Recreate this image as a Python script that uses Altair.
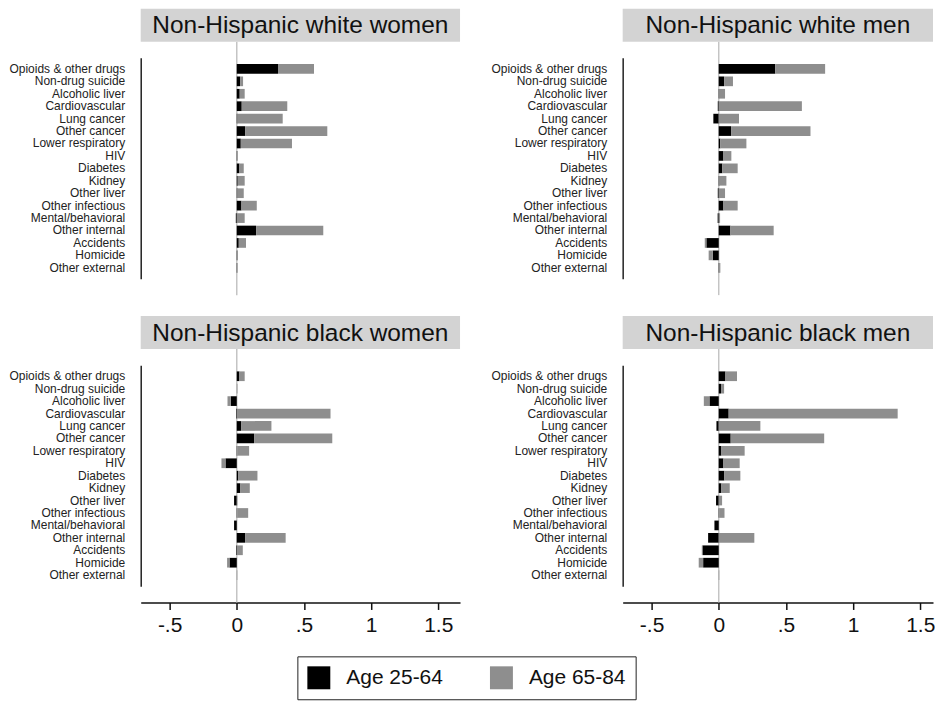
import altair as alt
import pandas as pd

causes = ["Opioids & other drugs", "Non-drug suicide", "Alcoholic liver", "Cardiovascular",
          "Lung cancer", "Other cancer", "Lower respiratory", "HIV", "Diabetes", "Kidney",
          "Other liver", "Other infectious", "Mental/behavioral", "Other internal",
          "Accidents", "Homicide", "Other external"]
panels = ["Non-Hispanic white women", "Non-Hispanic white men",
          "Non-Hispanic black women", "Non-Hispanic black men"]
ages = ["Age 25-64", "Age 65-84"]

ww_young = [0.307, 0.025, 0.022, 0.037, 0.005, 0.062, 0.030, 0.004, 0.020, 0.007, 0.005, 0.035, -0.007, 0.144, 0.015, 0.004, 0.003]
ww_old   = [0.268, 0.022, 0.037, 0.339, 0.337, 0.612, 0.381, 0.000, 0.032, 0.052, 0.047, 0.114, 0.059, 0.500, 0.054, 0.004, 0.003]
wm_young = [0.421, 0.040, 0.005, -0.007, -0.040, 0.092, 0.012, 0.035, 0.027, 0.005, -0.007, 0.035, -0.008, 0.087, -0.092, -0.045, 0.004]
wm_old   = [0.371, 0.066, 0.042, 0.619, 0.151, 0.591, 0.194, 0.059, 0.114, 0.052, 0.047, 0.106, 0.010, 0.322, -0.012, -0.030, 0.008]
bw_young = [0.020, 0.000, -0.045, -0.005, 0.032, 0.129, 0.003, -0.084, 0.012, 0.027, -0.020, 0.003, -0.020, 0.062, -0.005, -0.054, 0.000]
bw_old   = [0.039, 0.005, -0.024, 0.698, 0.226, 0.582, 0.089, -0.030, 0.142, 0.070, 0.005, 0.082, 0.000, 0.302, 0.045, -0.018, 0.004]
bm_young = [0.050, 0.017, -0.069, 0.074, -0.017, 0.089, 0.020, 0.035, 0.042, 0.020, -0.020, 0.003, -0.032, -0.079, -0.121, -0.116, 0.000]
bm_old   = [0.086, 0.023, -0.042, 1.258, 0.310, 0.696, 0.173, 0.121, 0.119, 0.062, 0.025, 0.040, 0.000, 0.265, -0.005, -0.033, 0.004]

tick_values = [-0.5, 0, 0.5, 1, 1.5]
tick_labels = ["-.5", "0", ".5", "1", "1.5"]

series = {
    panels[0]: (ww_young, ww_old),
    panels[1]: (wm_young, wm_old),
    panels[2]: (bw_young, bw_old),
    panels[3]: (bm_young, bm_old),
}
rows = []
for p, (yv, ov) in series.items():
    for i, c in enumerate(causes):
        rows.append(dict(panel=p, cause=c, age=ages[0], ord=0, value=yv[i]))
        rows.append(dict(panel=p, cause=c, age=ages[1], ord=1, value=ov[i]))
df = pd.DataFrame(rows)

FONT = "Liberation Sans"
HEADER_H = 33
PLOT_H = 254
XMIN = -0.715

label_expr = " : ".join(f"datum.value == {v} ? '{l}'" for v, l in zip(tick_values, tick_labels)) + " : datum.label"


def panel(name, width, xmax, bottom):
    xscale = alt.Scale(domain=[XMIN, xmax], nice=False, zero=False)
    if bottom:
        xaxis = alt.Axis(values=tick_values, labelExpr=label_expr, title=None, grid=False,
                         tickSize=7, tickWidth=1.5, tickColor="#111", domainColor="#111",
                         domainWidth=1.5, labelFontSize=21, labelFont=FONT, labelColor="#111",
                         labelPadding=5)
    else:
        xaxis = None
    one = pd.DataFrame({"t": [name], "z": [0.0]})
    hdr_rect = alt.Chart(one).mark_rect(color="#d3d3d3").encode(
        x=alt.value(0), x2=alt.value(width), y=alt.value(-HEADER_H), y2=alt.value(0))
    hdr_text = alt.Chart(one).mark_text(fontSize=24.5, font=FONT, color="#111",
                                        baseline="middle", align="center").encode(
        text="t:N", x=alt.value(width / 2), y=alt.value(-HEADER_H / 2 + 1))
    zero = alt.Chart(one).mark_rule(color="#c4c4c4", strokeWidth=1.5).encode(
        x=alt.X("z:Q", scale=xscale, axis=xaxis))
    bars = alt.Chart(df[df.panel == name].reset_index(drop=True)).mark_bar().encode(
        x=alt.X("value:Q", scale=xscale, axis=xaxis, stack="zero"),
        y=alt.Y("cause:N", sort=causes,
                scale=alt.Scale(paddingInner=0.22, paddingOuter=0.5, range=[16.2, 237.7]),
                axis=alt.Axis(title=None, ticks=False, labelPadding=16, labelFontSize=12,
                              labelFont=FONT, labelColor="#222", domainColor="#222",
                              domainWidth=1.5, grid=False, labelLimit=300)),
        color=alt.Color("age:N", title=None,
                        scale=alt.Scale(domain=ages, range=["#000000", "#8e8e8e"]),
                        legend=alt.Legend(orient="none", legendX=157, legendY=616,
                                          direction="horizontal", symbolType="square",
                                          symbolSize=529, symbolStrokeWidth=0,
                                          labelFontSize=21, labelFont=FONT, labelColor="#111",
                                          labelOffset=16, columnPadding=47, padding=10,
                                          strokeColor="#222", fillColor="white")),
        order=alt.Order("ord:Q"),
    )
    return alt.layer(zero, bars, hdr_rect, hdr_text).properties(width=width, height=PLOT_H)


row1 = alt.hconcat(panel(panels[0], 320, 1.662, False), panel(panels[1], 311, 1.595, False), spacing=30)
row2 = alt.hconcat(panel(panels[2], 320, 1.662, True), panel(panels[3], 311, 1.595, True), spacing=30)

chart = alt.vconcat(row1, row2, spacing=20).properties(padding=0).configure_view(strokeWidth=0)

chart.save("out.html", embed_options={"renderer": "svg", "actions": False})
